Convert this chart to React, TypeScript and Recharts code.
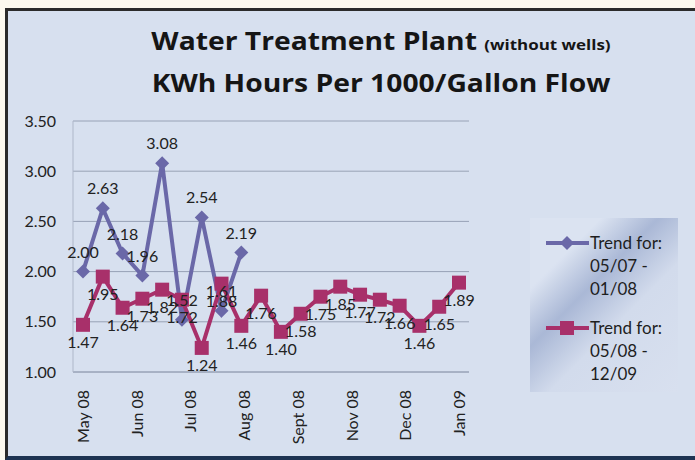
import React from "react";
import { CartesianGrid, LabelList, Line, LineChart, XAxis, YAxis } from "recharts";

const blueValues = [2.0, 2.63, 2.18, 1.96, 3.08, 1.52, 2.54, 1.61, 2.19];
const pinkValues = [
  1.47, 1.95, 1.64, 1.73, 1.82, 1.72, 1.24, 1.88, 1.46, 1.76,
  1.4, 1.58, 1.75, 1.85, 1.77, 1.72, 1.66, 1.46, 1.65, 1.89,
];
const monthLabels = ["May 08", "Jun 08", "Jul 08", "Aug 08", "Sept 08", "Nov 08", "Dec 08", "Jan 09"];
const monthTickPos = [0, 2.71, 5.43, 8.14, 10.86, 13.57, 16.29, 19];
const yTicks = [1.0, 1.5, 2.0, 2.5, 3.0, 3.5];

const BLUE = "#6a68a8";
const PINK = "#a8306a";
const FONT = "Lato, 'Open Sans', sans-serif";

const data = pinkValues.map((p, i) => ({
  idx: i,
  pink: p,
  blue: i < blueValues.length ? blueValues[i] : null,
}));

const Diamond = (props: any) => {
  const { cx, cy } = props;
  if (cx == null || cy == null || props.value == null) return null;
  const r = 7;
  return <polygon points={`${cx},${cy - r} ${cx + r},${cy} ${cx},${cy + r} ${cx - r},${cy}`} fill={BLUE} />;
};

const Square = (props: any) => {
  const { cx, cy } = props;
  if (cx == null || cy == null) return null;
  return <rect x={cx - 7} y={cy - 7} width={14} height={14} fill={PINK} />;
};

const MonthTick = (props: any) => {
  const { x, y, payload } = props;
  const i = monthTickPos.indexOf(payload.value);
  return (
    <text
      x={0}
      y={0}
      transform={`translate(${x + 6},${y + 10}) rotate(-90)`}
      textAnchor="end"
      fontSize={16}
      fontFamily={FONT}
      fill="#222"
    >
      {monthLabels[i]}
    </text>
  );
};

const LegendBox = () => {
  const entry = (color: string, shape: "d" | "s", lines: string[]) => (
    <div style={{ display: "flex", alignItems: "flex-start" }}>
      <svg width={44} height={22} style={{ flex: "none" }}>
        <line x1={0} x2={43} y1={12} y2={12} stroke={color} strokeWidth={4} />
        {shape === "d" ? (
          <polygon points="21,5 28,12 21,19 14,12" fill={color} />
        ) : (
          <rect x={14} y={5} width={14} height={14} fill={color} />
        )}
      </svg>
      <div style={{ fontSize: 17, lineHeight: "23px", color: "#1e1e1e", fontFamily: FONT }}>
        {lines.map((l) => (
          <div key={l}>{l}</div>
        ))}
      </div>
    </div>
  );
  return (
    <div
      style={{
        position: "absolute",
        left: 522,
        top: 207,
        width: 148,
        height: 174,
        boxSizing: "border-box",
        padding: "13px 0 0 16px",
        background: "linear-gradient(135deg, #dbe3f1 0%, #dbe3f1 22%, #aab8d6 40%, #d2dbec 60%, #d8e0ef 100%)",
        display: "flex",
        flexDirection: "column",
        gap: 16,
      }}
    >
      {entry(BLUE, "d", ["Trend for:", "05/07 -", "01/08"])}
      {entry(PINK, "s", ["Trend for:", "05/08 -", "12/09"])}
    </div>
  );
};

export default function App() {
  return (
    <div style={{ position: "absolute", left: 0, top: 0, width: 695, height: 460, background: "#fcf9ef", overflow: "hidden" }}>
      <div
        style={{
          position: "absolute",
          left: 5,
          top: 8,
          width: 700,
          height: 452,
          boxSizing: "border-box",
          borderLeft: "3px solid #2b2b2b",
          borderTop: "3px solid #2b2b2b",
          borderBottom: "4px solid #1d3352",
          background: "#d7e0ef",
        }}
      >
        <div
          style={{
            position: "absolute",
            left: 0,
            width: 746,
            top: 10,
            textAlign: "center",
            fontFamily: "'Open Sans', sans-serif",
            fontWeight: 700,
            color: "#151515",
            fontSize: 25,
            lineHeight: "38px",
            transform: "scaleX(1.13)",
            transformOrigin: "373px 0",
          }}
        >
          <div>
            Water Treatment Plant <span style={{ fontSize: 15 }}>(without wells)</span>
          </div>
          <div>KWh Hours Per 1000/Gallon Flow</div>
        </div>
        <div style={{ position: "absolute", left: 0, top: 0 }}>
          <LineChart width={687} height={446} data={data} margin={{ top: 110, right: 226, bottom: 0, left: 0 }}>
            <CartesianGrid horizontal vertical={false} stroke="#98a2b6" strokeWidth={1} />
            <XAxis
              dataKey="idx"
              type="number"
              domain={[0, 19]}
              ticks={monthTickPos}
              interval={0}
              tick={<MonthTick />}
              tickLine={false}
              axisLine={{ stroke: "#98a2b6" }}
              padding={{ left: 10, right: 10 }}
              height={85}
            />
            <YAxis
              domain={[1, 3.5]}
              ticks={yTicks}
              tickFormatter={(v: number) => v.toFixed(2)}
              tick={{ fontSize: 16, fill: "#222", fontFamily: FONT }}
              tickLine={false}
              tickSize={0}
              tickMargin={17}
              axisLine={{ stroke: "#aeb7c9" }}
              width={65}
            />
            <Line
              type="linear"
              dataKey="blue"
              stroke={BLUE}
              strokeWidth={4}
              dot={<Diamond />}
              activeDot={false}
              isAnimationActive={false}
              connectNulls={false}
            >
              <LabelList
                dataKey="blue"
                position="top"
                offset={14}
                formatter={(v: any) => (v == null ? "" : Number(v).toFixed(2))}
                style={{ fontSize: 16, fill: "#222", fontFamily: FONT }}
              />
            </Line>
            <Line
              type="linear"
              dataKey="pink"
              stroke={PINK}
              strokeWidth={4}
              dot={<Square />}
              activeDot={false}
              isAnimationActive={false}
            >
              <LabelList
                dataKey="pink"
                position="bottom"
                offset={12}
                formatter={(v: any) => Number(v).toFixed(2)}
                style={{ fontSize: 16, fill: "#222", fontFamily: FONT }}
              />
            </Line>
          </LineChart>
        </div>
        <LegendBox />
      </div>
    </div>
  );
}
